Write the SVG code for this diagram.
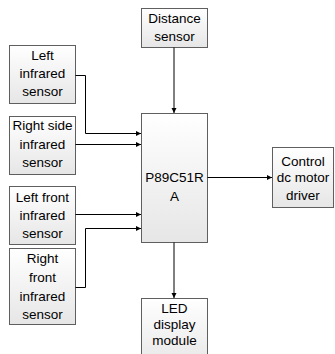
<svg xmlns="http://www.w3.org/2000/svg" width="335" height="354" viewBox="0 0 335 354">
<defs>
<linearGradient id="g" x1="0" y1="0" x2="0" y2="1">
<stop offset="0" stop-color="#ffffff"/>
<stop offset="1" stop-color="#e6e6e6"/>
</linearGradient>
<marker id="arr" markerWidth="6" markerHeight="6" refX="5" refY="3" orient="auto" markerUnits="userSpaceOnUse">
<path d="M0,0.5 L5,3 L0,5.5 Z" fill="#000"/>
</marker>
</defs>
<style>
.box{fill:url(#g);stroke:#5f5f5f;stroke-width:1}
.t{font-family:"Liberation Sans",Arial,sans-serif;font-size:13.5px;fill:#000;text-anchor:middle}
.c{fill:none;stroke:#000;stroke-width:1;marker-end:url(#arr)}
</style>
<rect width="335" height="354" fill="#fff"/>
<g id="distance">
<rect class="box" x="141.5" y="8.5" width="66" height="39"/>
<text class="t" x="174.5" y="23">Distance</text>
<text class="t" x="174.5" y="41">sensor</text>
</g>
<g id="left-infrared">
<rect class="box" x="9.5" y="45.5" width="66" height="58"/>
<text class="t" x="42.5" y="60">Left</text>
<text class="t" x="42.5" y="78">infrared</text>
<text class="t" x="42.5" y="96">sensor</text>
</g>
<g id="right-side">
<rect class="box" x="9.5" y="116.5" width="66" height="58"/>
<text class="t" x="42.5" y="130">Right side</text>
<text class="t" x="42.5" y="149">infrared</text>
<text class="t" x="42.5" y="167">sensor</text>
</g>
<g id="left-front">
<rect class="box" x="9.5" y="186.5" width="66" height="58"/>
<text class="t" x="42.5" y="202">Left front</text>
<text class="t" x="42.5" y="220">infrared</text>
<text class="t" x="42.5" y="238">sensor</text>
</g>
<g id="right-front">
<rect class="box" x="9.5" y="248.5" width="66" height="76"/>
<text class="t" x="42.5" y="263">Right</text>
<text class="t" x="42.5" y="282">front</text>
<text class="t" x="42.5" y="301">infrared</text>
<text class="t" x="42.5" y="319">sensor</text>
</g>
<g id="mcu">
<rect class="box" x="141.5" y="113.5" width="66" height="129"/>
<text class="t" x="174.5" y="182">P89C51R</text>
<text class="t" x="174.5" y="201">A</text>
</g>
<g id="control">
<rect class="box" x="272.5" y="147.5" width="61" height="60"/>
<text class="t" x="303" y="166">Control</text>
<text class="t" x="303" y="182">dc motor</text>
<text class="t" x="303" y="200">driver</text>
</g>
<g id="led">
<rect class="box" x="141.5" y="298.5" width="66" height="70"/>
<text class="t" x="174.5" y="313">LED</text>
<text class="t" x="174.5" y="329">display</text>
<text class="t" x="174.5" y="345">module</text>
</g>
<g id="connectors">
<path class="c" d="M174,47.5 V113"/>
<path class="c" d="M75.5,75.5 H85.5 V133.5 H141"/>
<path class="c" d="M75.5,144.5 H141"/>
<path class="c" d="M75.5,214.5 H141"/>
<path class="c" d="M75.5,287.5 H85.5 V228.5 H141"/>
<path class="c" d="M207.5,177.5 H272"/>
<path class="c" d="M174,242.5 V298"/>
</g>
</svg>
